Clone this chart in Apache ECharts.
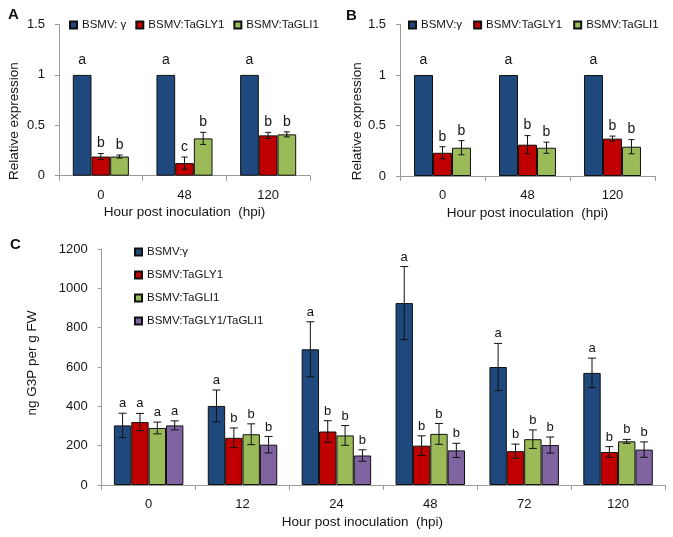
<!DOCTYPE html>
<html><head><meta charset="utf-8">
<script src="https://cdn.jsdelivr.net/npm/echarts@6/dist/echarts.min.js"></script>
<style>html,body{margin:0;padding:0;background:#fff}#c{width:673px;height:537px}</style>
</head><body><div id="c"></div>
<script>
// ---- data ----
const catsAB = ['0', '48', '120'];
const catsC = ['0', '12', '24', '48', '72', '120'];
const namesA = ['BSMV: γ', 'BSMV:TaGLY1', 'BSMV:TaGLI1'];
const namesB = ['BSMV:γ', 'BSMV:TaGLY1', 'BSMV:TaGLI1'];
const namesC = ['BSMV:γ', 'BSMV:TaGLY1', 'BSMV:TaGLI1', 'BSMV:TaGLY1/TaGLI1'];

const aGamma = [1, 1, 1];
const aGLY1 = [0.19, 0.125, 0.40];
const aGLI1 = [0.19, 0.37, 0.41];
const aErrGamma = [0, 0, 0];
const aErrGLY1 = [0.03, 0.06, 0.03];
const aErrGLI1 = [0.015, 0.06, 0.025];
const aLetters = [['a', 'a', 'a'], ['b', 'c', 'b'], ['b', 'b', 'b']];

const bGamma = [1, 1, 1];
const bGLY1 = [0.23, 0.31, 0.37];
const bGLI1 = [0.28, 0.28, 0.29];
const bErrGamma = [0, 0, 0];
const bErrGLY1 = [0.06, 0.09, 0.025];
const bErrGLI1 = [0.07, 0.055, 0.07];
const bLetters = [['a', 'a', 'a'], ['b', 'b', 'b'], ['b', 'b', 'b']];

const cGamma = [303, 402, 690, 925, 600, 570];
const cGLY1 = [320, 240, 272, 200, 172, 168];
const cGLI1 = [290, 258, 252, 260, 233, 222];
const cBoth = [303, 205, 150, 176, 203, 180];
const cErrGamma = [62, 81, 140, 186, 120, 75];
const cErrGLY1 = [44, 50, 55, 50, 36, 27];
const cErrGLI1 = [30, 53, 50, 53, 47, 10];
const cErrBoth = [23, 42, 29, 36, 41, 39];
const cLetters = [
  ['a', 'a', 'a', 'a', 'a', 'a'],
  ['a', 'b', 'b', 'b', 'b', 'b'],
  ['a', 'b', 'b', 'b', 'b', 'b'],
  ['a', 'b', 'b', 'b', 'b', 'b']
];

// ---- styling ----
const colors = ['#1F497D', '#C00000', '#9BBB59', '#8064A2'];
const FONT = '"Liberation Sans", Arial, sans-serif';
const TXT = '#141414';
const AX = '#9a9a9a';

function barSeries(names, vals, idx, gap) {
  return names.map((n, i) => ({
    type: 'bar', name: n, xAxisIndex: idx, yAxisIndex: idx,
    data: vals[i], barGap: '0%', barCategoryGap: (gap * 100) + '%',
    itemStyle: { color: colors[i], borderColor: '#111', borderWidth: 1 },
    emphasis: { disabled: true }
  }));
}

function errSeries(vals, errs, letters, idx, gap, cap, fs) {
  const n = vals.length;
  const data = [];
  vals.forEach((arr, si) => arr.forEach((v, ci) => data.push([ci, si, v, errs[si][ci]])));
  return {
    type: 'custom', xAxisIndex: idx, yAxisIndex: idx, z: 10, clip: false, silent: true,
    data: data,
    renderItem: function (params, api) {
      const ci = api.value(0), si = api.value(1), v = api.value(2), e = api.value(3);
      const catW = api.size([1, 0])[0];
      const bw = catW * (1 - gap) / n;
      const x = api.coord([ci, 0])[0] + (si - (n - 1) / 2) * bw;
      const yT = api.coord([ci, v + e])[1];
      const yB = api.coord([ci, v - e])[1];
      const st = { stroke: '#111', lineWidth: 1 };
      const ch = [];
      if (e > 0) {
        ch.push({ type: 'line', shape: { x1: x, y1: yT, x2: x, y2: yB }, style: st });
        ch.push({ type: 'line', shape: { x1: x - cap, y1: yT, x2: x + cap, y2: yT }, style: st });
        ch.push({ type: 'line', shape: { x1: x - cap, y1: yB, x2: x + cap, y2: yB }, style: st });
      }
      ch.push({
        type: 'text',
        style: {
          text: letters[si][ci], x: x, y: yT - (e > 0 ? 3 : 8),
          align: 'center', verticalAlign: 'bottom',
          font: fs + 'px ' + FONT, fill: TXT
        }
      });
      return { type: 'group', children: ch };
    }
  };
}

function xAx(idx, cats, nameShift) {
  return {
    gridIndex: idx, type: 'category', data: cats,
    axisLine: { lineStyle: { color: AX, width: 1 } },
    axisTick: { show: true, length: 5, lineStyle: { color: AX } },
    axisLabel: { color: TXT, fontSize: 13, fontFamily: FONT, margin: 13 },
    name: 'Hour post inoculation  (hpi)', nameLocation: 'middle', nameGap: 30,
    nameTextStyle: { color: TXT, fontSize: 13.5, fontFamily: FONT, padding: [0, nameShift, 0, 0] }
  };
}
function yAx(idx, max, interval, name, gap, pad, fs) {
  return {
    gridIndex: idx, type: 'value', min: 0, max: max, interval: interval,
    splitLine: { show: false },
    axisLine: { show: true, lineStyle: { color: AX, width: 1 } },
    axisTick: { show: true, length: 4, lineStyle: { color: AX } },
    axisLabel: { color: TXT, fontSize: fs, fontFamily: FONT, margin: 14, formatter: v => String(v) },
    name: name, nameLocation: 'middle', nameGap: gap,
    nameTextStyle: { color: TXT, fontSize: 13.5, fontFamily: FONT, padding: pad }
  };
}
function legend(names, opts) {
  return Object.assign({
    data: names, icon: 'rect', itemWidth: 7, itemHeight: 7, itemGap: 9, padding: 0,
    textStyle: { color: TXT, fontSize: 11.5, fontFamily: FONT },
    selectedMode: false
  }, opts);
}

const gapAB = 0.33, gapC = 0.26;
const aV = [aGamma, aGLY1, aGLI1], aE = [aErrGamma, aErrGLY1, aErrGLI1];
const bV = [bGamma, bGLY1, bGLI1], bE = [bErrGamma, bErrGLY1, bErrGLI1];
const cV = [cGamma, cGLY1, cGLI1, cBoth], cE = [cErrGamma, cErrGLY1, cErrGLI1, cErrBoth];

const option = {
  animation: false,
  backgroundColor: '#fff',
  grid: [
    { left: 59, top: 24.5, width: 251, height: 151.2 },
    { left: 400, top: 24.5, width: 255, height: 151.5 },
    { left: 101.7, top: 249, width: 563.3, height: 236 }
  ],
  xAxis: [xAx(0, catsAB, 0), xAx(1, catsAB, 0), xAx(2, catsC, 42)],
  yAxis: [
    yAx(0, 1.5, 0.5, 'Relative expression', 38, [0, 42, 0, 0], 13),
    yAx(1, 1.5, 0.5, 'Relative expression', 30, [0, 42, 0, 0], 13),
    yAx(2, 1200, 200, 'ng G3P per g FW', 62, [0, 0, 0, 8], 13)
  ],
  legend: [
    legend(namesA, { left: 69, top: 19 }),
    legend(namesB, { left: 408, top: 19, itemGap: 11 }),
    legend(namesC, { left: 134, top: 246, orient: 'vertical', itemGap: 11 })
  ],
  graphic: [
    { type: 'text', left: 8, top: 7, style: { text: 'A', font: 'bold 15px ' + FONT, fill: '#111' } },
    { type: 'text', left: 346, top: 8, style: { text: 'B', font: 'bold 15px ' + FONT, fill: '#111' } },
    { type: 'text', left: 10, top: 237, style: { text: 'C', font: 'bold 15px ' + FONT, fill: '#111' } }
  ],
  series: [].concat(
    barSeries(namesA, aV, 0, gapAB),
    barSeries(namesB, bV, 1, gapAB),
    barSeries(namesC, cV, 2, gapC),
    [errSeries(aV, aE, aLetters, 0, gapAB, 3, 14),
     errSeries(bV, bE, bLetters, 1, gapAB, 3, 14),
     errSeries(cV, cE, cLetters, 2, gapC, 4, 13)]
  )
};
const chart = echarts.init(document.getElementById('c'), null, { renderer: 'canvas' });
chart.setOption(option);
</script>
</body></html>
